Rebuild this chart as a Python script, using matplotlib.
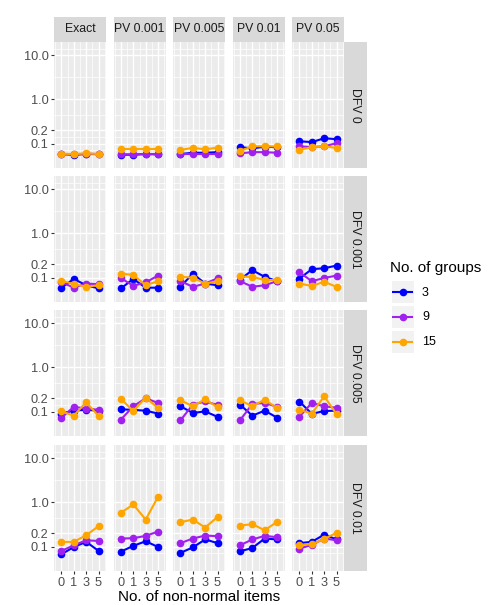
import numpy as np
import matplotlib
matplotlib.use("Agg")
import matplotlib.pyplot as plt

plt.rcParams['font.family'] = ['Liberation Sans', 'DejaVu Sans']

# facets and axes
col_labels = ['Exact', 'PV 0.001', 'PV 0.005', 'PV 0.01', 'PV 0.05']
row_labels = ['DFV 0', 'DFV 0.001', 'DFV 0.005', 'DFV 0.01']
x_labels = ['0', '1', '3', '5']
groups = ['3', '9', '15']
colors = ['#0000FF', '#A020F0', '#FFA500']

# values: [row][col] -> one list per group (3, 9, 15)
vals_3 = [
    [[0.058, 0.056, 0.058, 0.058], [0.056, 0.056, 0.058, 0.057], [0.058, 0.062, 0.062, 0.064],
     [0.083, 0.078, 0.085, 0.083], [0.113, 0.108, 0.132, 0.126]],
    [[0.059, 0.093, 0.067, 0.057], [0.057, 0.093, 0.059, 0.059], [0.062, 0.123, 0.073, 0.067],
     [0.090, 0.147, 0.104, 0.083], [0.095, 0.155, 0.163, 0.187]],
    [[0.090, 0.105, 0.110, 0.105], [0.113, 0.109, 0.105, 0.090], [0.132, 0.093, 0.101, 0.076],
     [0.144, 0.081, 0.105, 0.073], [0.169, 0.089, 0.103, 0.105]],
    [[0.067, 0.098, 0.128, 0.080], [0.077, 0.104, 0.132, 0.098], [0.072, 0.096, 0.145, 0.120],
     [0.078, 0.093, 0.152, 0.145], [0.120, 0.128, 0.187, 0.145]],
]
vals_9 = [
    [[0.058, 0.057, 0.059, 0.058], [0.057, 0.057, 0.058, 0.058], [0.058, 0.058, 0.058, 0.058],
     [0.060, 0.064, 0.064, 0.062], [0.087, 0.083, 0.087, 0.102]],
    [[0.079, 0.059, 0.073, 0.071], [0.097, 0.065, 0.078, 0.111], [0.083, 0.062, 0.073, 0.097],
     [0.083, 0.062, 0.067, 0.083], [0.132, 0.083, 0.098, 0.111]],
    [[0.073, 0.128, 0.117, 0.110], [0.066, 0.132, 0.200, 0.157], [0.063, 0.144, 0.170, 0.141],
     [0.063, 0.149, 0.157, 0.128], [0.077, 0.157, 0.132, 0.122]],
    [[0.080, 0.107, 0.139, 0.134], [0.152, 0.155, 0.175, 0.219], [0.120, 0.152, 0.178, 0.172],
     [0.107, 0.145, 0.175, 0.163], [0.090, 0.109, 0.152, 0.139]],
]
vals_15 = [
    [[0.059, 0.058, 0.060, 0.058], [0.074, 0.074, 0.074, 0.074], [0.072, 0.080, 0.074, 0.081],
     [0.068, 0.087, 0.087, 0.086], [0.072, 0.083, 0.087, 0.080]],
    [[0.085, 0.071, 0.062, 0.067], [0.123, 0.115, 0.067, 0.083], [0.104, 0.100, 0.073, 0.083],
     [0.106, 0.104, 0.088, 0.088], [0.073, 0.065, 0.080, 0.062]],
    [[0.101, 0.081, 0.163, 0.079], [0.194, 0.103, 0.208, 0.120], [0.181, 0.132, 0.190, 0.125],
     [0.181, 0.132, 0.186, 0.120], [0.110, 0.090, 0.223, 0.087]],
    [[0.128, 0.128, 0.181, 0.290], [0.582, 0.900, 0.410, 1.345], [0.357, 0.410, 0.270, 0.470],
     [0.300, 0.322, 0.235, 0.363], [0.109, 0.113, 0.149, 0.205]],
]
all_vals = [vals_3, vals_9, vals_15]

y_ticks = [0.1, 0.2, 1.0, 10.0]
y_tick_labels = ['0.1', '0.2', '1.0', '10.0']

W, H = 492, 605
fig = plt.figure(figsize=(W / 100, H / 100), dpi=100)

col_left = [54, 113.5, 173, 232.5, 292]
row_top = [42, 176, 310, 445]
pw, ph = 52, 126

panel_bg = '#EBEBEB'
strip_bg = '#D9D9D9'
tick_col = '#4D4D4D'

lims = np.log10([0.028, 20.0])
minor_y = [-1.15, -0.85, -0.35, 0.5, 1.15]

def fax(l, t, w, h):
    return fig.add_axes([l / W, 1 - (t + h) / H, w / W, h / H])

def clean(a):
    a.set_xticks([]); a.set_yticks([])
    for s in a.spines.values():
        s.set_visible(False)

x = np.arange(1, 5)
for r in range(4):
    for c in range(5):
        ax = fax(col_left[c], row_top[r], pw, ph)
        ax.set_facecolor(panel_bg)
        ax.set_xlim(0.4, 4.6)
        ax.set_yscale('log')
        ax.set_ylim(10 ** lims[0], 10 ** lims[1])
        for m in minor_y:
            ax.axhline(10 ** m, color='white', lw=0.5, zorder=0.5)
        for m in np.arange(0.5, 5, 1):
            ax.axvline(m, color='white', lw=0.5, zorder=0.5)
        for v in y_ticks:
            ax.axhline(v, color='white', lw=1.0, zorder=0.6)
        for v in x:
            ax.axvline(v, color='white', lw=1.0, zorder=0.6)
        for g in range(3):
            ax.plot(x, all_vals[g][r][c], color=colors[g], lw=1.5, marker='o',
                    ms=4.5, zorder=2 + g)
        for s in ax.spines.values():
            s.set_visible(False)
        ax.set_yticks(y_ticks)
        ax.minorticks_off()
        ax.set_xticks(x)
        ax.tick_params(colors='#333333', length=2.5, width=0.8, labelsize=9.2,
                       labelcolor=tick_col, pad=1.5)
        if c == 0:
            ax.set_yticklabels(y_tick_labels)
        else:
            ax.tick_params(axis='y', left=False, labelleft=False)
        if r == 3:
            ax.set_xticklabels(x_labels)
        else:
            ax.tick_params(axis='x', bottom=False, labelbottom=False)

        if r == 0:
            sax = fax(col_left[c], 17, pw, 25)
            sax.set_facecolor(strip_bg)
            clean(sax)
            sax.text(0.5, 0.5, col_labels[c], ha='center', va='center',
                     fontsize=8.8, color='#1A1A1A', transform=sax.transAxes)
    rax = fax(344, row_top[r], 23, ph)
    rax.set_facecolor(strip_bg)
    clean(rax)
    rax.text(0.5, 0.5, row_labels[r], ha='center', va='center', rotation=-90,
             fontsize=8.8, color='#1A1A1A', transform=rax.transAxes)

fig.text(199 / W, 1 - 597 / H, 'No. of non-normal items', ha='center', va='center',
         fontsize=11, color='black')

# legend
fig.text(390 / W, 1 - 268 / H, 'No. of groups', ha='left', va='center',
         fontsize=11, color='black')
for i, g in enumerate(groups):
    cy = 292.5 + i * 24.5
    kax = fax(391.5, cy - 11, 22, 22)
    kax.set_facecolor('#F2F2F2')
    kax.set_xlim(0, 1); kax.set_ylim(0, 1)
    clean(kax)
    kax.plot([0.05, 0.95], [0.5, 0.5], color=colors[i], lw=1.5)
    kax.plot([0.5], [0.5], 'o', color=colors[i], ms=4.5)
    fig.text(422 / W, 1 - cy / H, g, ha='left', va='center', fontsize=9, color='black')

fig.savefig('out.png', dpi=100)
